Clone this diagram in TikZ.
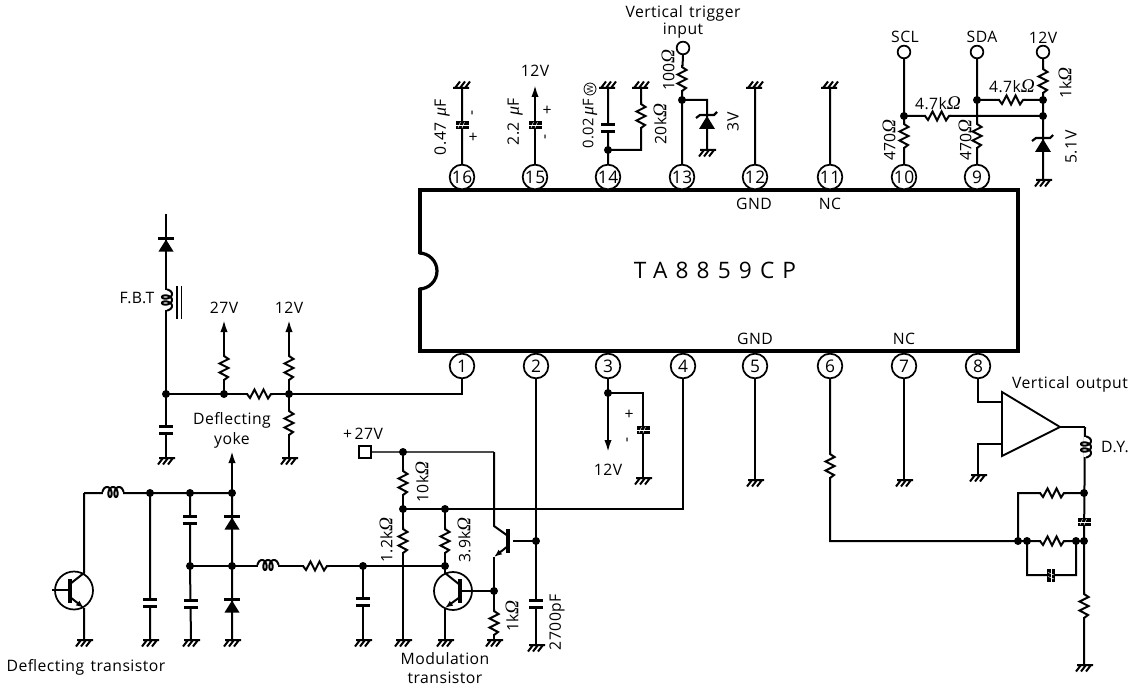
\documentclass[tikz,border=0pt]{standalone}
\usepackage{fontspec}
\setmainfont{Open Sans}[LetterSpace=3,WordSpace=1.4]
\newfontfamily\serifsy{Liberation Serif}
\usetikzlibrary{arrows.meta,calc}
\newcommand{\Om}{{\serifsy\itshape\fontsize{14.5}{14}\selectfont Ω}}
\newcommand{\Mu}{{\serifsy\itshape\fontsize{13.5}{14}\selectfont μ}}
\newcommand{\gndat}[3]{\coordinate (#1) at (#2,#3); \pic at (#1) {gnd};}
\newcommand{\gndup}[3]{\coordinate (#1) at (#2,#3); \pic[rotate=180] at (#1) {gnd};}
\tikzset{
  wire/.style={line width=1.5pt,line cap=butt,line join=miter},
  arrowwire/.style={wire,-{Latex[length=9pt,width=5.5pt]}},
  thin wire/.style={line width=1pt,black!70},
  dot/.style={circle,fill=black,inner sep=0pt,minimum size=6pt},
  pinnode/.style={circle,draw,line width=1.3pt,fill=white,inner sep=0pt,minimum size=18.5pt,font=\fontsize{13}{13}\selectfont},
  open/.style={circle,draw,line width=1.3pt,fill=white,inner sep=0pt,minimum size=9.5pt},
  lab/.style={inner sep=0pt,font=\fontsize{11.8}{13}\selectfont},
  vlab/.style={lab,rotate=90},
  res/.pic={\fill[white] (-12,-1.5) rectangle (12,1.5);
    \draw[wire] (-13,0)--(-10,4)--(-5.5,-4.5)--(-1,4.5)--(3.5,-4.5)--(8,4.5)--(11,0)--(13,0);},
  cap/.pic={\fill[white] (-3,-2) rectangle (3,2);
    \fill (-7,-5.2) rectangle (7,-2); \fill (-7,2) rectangle (7,5.2);},
  scap/.pic={\fill (-6.5,-4) rectangle (6.5,4);
    \draw[white,line width=.35pt] (-4,3)--(-1.5,-3) (0,3)--(2.5,-3);
    \draw[white,line width=.35pt] (-6.5,0)--(6.5,0);},
  diode/.pic={\fill (-7.5,6.5)--(7.5,6.5)--(0,-5.5)--cycle;
    \draw[line width=2pt] (-8,-6.5)--(8,-6.5);},
  zener/.pic={\fill (-8,7)--(8,7)--(0,-6)--cycle;
    \draw[line width=1.6pt] (-11,-4)--(-7,-7)--(7,-7)--(10,-10);},
  coil/.pic={\fill[white] (-10,-1.5) rectangle (10,1.5);
    \draw[line width=1.5pt] plot[domain=90:990,samples=90,smooth] ({(\x-540)/60-3*sin(\x)},{-1+5*cos(\x)});},
  gnd/.pic={\draw[line width=1.5pt] (-7,0)--(9,0) (-3,0)--(-8,6.5) (2,0)--(-3,6.5) (7,0)--(2,6.5);},
}
\begin{document}
\begin{tikzpicture}[x=0.75pt,y=-0.75pt]
\useasboundingbox (0,0) rectangle (1135,688);
% pins
\foreach \n/\x in {16/462,15/535,14/608,13/682,12/755,11/830,10/904,9/977}{\coordinate (c\n) at (\x,177);}
\foreach \n/\x in {1/462,2/536,3/608,4/683,5/755,6/830,7/904,8/978}{\coordinate (c\n) at (\x,366);}
% junction coordinates
\coordinate (n1) at (608,150); \coordinate (n2) at (641,150); \coordinate (n3) at (682,100);
\coordinate (n4) at (707,100); \coordinate (n5) at (904,116); \coordinate (n6) at (1043,116);
\coordinate (n7) at (977,100); \coordinate (n8) at (1043,100);
\coordinate (a1) at (535,85);
\coordinate (f0) at (166,214); \coordinate (f1) at (166,394); \coordinate (f2) at (224,394); \coordinate (f3) at (289,394);
\coordinate (f4) at (224,320); \coordinate (f5) at (289,320); \coordinate (f6) at (462,394);
\coordinate (m1) at (608,393); \coordinate (m2) at (643,393); \coordinate (m3) at (608,452);
\coordinate (k1) at (536,541);
\coordinate (t1) at (84,493); \coordinate (t2) at (150,493); \coordinate (t3) at (190,493); \coordinate (t4) at (232,493); \coordinate (t5) at (232,451);
\coordinate (t6) at (190,566); \coordinate (t7) at (232,566); \coordinate (t8) at (363,566); \coordinate (t9) at (445,566);
\coordinate (v1) at (403,452); \coordinate (v2) at (403,509); \coordinate (v3) at (445,509); \coordinate (v4) at (683,509); \coordinate (v5) at (494,452);
\coordinate (v6) at (494,526); \coordinate (v7) at (494,557); \coordinate (v8) at (494,591);
\coordinate (q1c) at (84,573); \coordinate (q1e) at (84,608); \coordinate (q1b) at (52,590);
\coordinate (q2c) at (445,573); \coordinate (q2e) at (445,608);
\coordinate (d1) at (1085,427); \coordinate (d2) at (1084,493); \coordinate (d3) at (1084,541); \coordinate (d4) at (1018,541); \coordinate (d5) at (1018,493);
\coordinate (d6) at (1027,541); \coordinate (d7) at (1076,541); \coordinate (d8) at (1027,575); \coordinate (d9) at (1076,575);
\coordinate (e1) at (830,541); \coordinate (e2) at (978,402); \coordinate (e3) at (978,444); \coordinate (e4) at (1002,402); \coordinate (e5) at (1002,444); \coordinate (e6) at (1060,427);
% grounds
\gndup{g16}{462}{88} \gndup{g14}{608}{88} \gndup{g14b}{641}{88} \gndup{g12}{755}{88} \gndup{g11}{830}{88}
\gndat{g13}{707}{150} \gndat{g9}{1043}{180}
\gndat{g1}{166}{458} \gndat{g2}{289}{458} \gndat{g3}{643}{478} \gndat{g5}{755}{480} \gndat{g7}{904}{480} \gndat{g8}{978}{475}
\gndat{g21}{84}{640} \gndat{g22}{150}{640} \gndat{g23}{191}{640} \gndat{g24}{232}{640}
\gndat{g25}{363}{640} \gndat{g26}{403}{640} \gndat{g27}{445}{640} \gndat{g28}{494}{640} \gndat{g29}{536}{645} \gndat{g30}{1084}{665}
% open terminals
\node[open] (ot) at (683,48) {}; \node[open] (scl) at (904,52) {}; \node[open] (sda) at (977,52) {}; \node[open] (v12) at (1043,52) {};
\node[draw,line width=1.3pt,fill=white,inner sep=0pt,minimum size=9pt] (sq) at (365,452) {};
% wires
\draw[wire] (c16)--(g16) (c14)--(g14) (n1)--(n2)--(g14b) (c13)--(n3) (n3)--(ot) (n3)--(n4)--(g13)
  (c12)--(g12) (c11)--(g11) (c10)--(n5)--(scl) (n5)--(n6) (c9)--(sda) (n7)--(n8) (v12)--(g9);
\draw[arrowwire] (c15)--(a1);
\draw[wire] (f0)--(g1) (f1)--(f3)--(f6)--(c1) (f3)--(g2) ;
\draw[arrowwire] (f2)--(f4);
\draw[arrowwire] (f3)--(f5);
\draw[wire] (c3)--(m1)--(m2)--(g3) (c5)--(g5) (c7)--(g7);
\draw[arrowwire] (m1)--(m3);
\draw[wire] (c2)--(g29) (c4)--(v4)--(v2)--(g26) (v3)--(t9)--(q2c) (q2e)--(g27);
\draw[wire] (k1)--(513,541);
\draw[thin wire] (sq)--(v1)--(v5);
\draw[wire] (v5)--(v6)--(508,536);
\draw[wire] (v1)--(v2) (v7)--(g28);
\draw[wire,-{Latex[length=6pt,width=4.5pt]}] (508,546)--(v7);
\draw[wire] (t1)--(q1c)--(70,584) (q1e)--(g21);
\draw[wire,-{Latex[length=6pt,width=4.5pt]}] (70,597)--(q1e);
\draw[wire] (t1)--(t4) (t2)--(g22) (t3)--(t6)--(g23) (t4)--(g24);
\draw[arrowwire] (t4)--(t5);
\draw[wire] (t6)--(t8)--(t9);
\draw[wire] (t8)--(g25);
\draw[wire] (q2c)--(460,585);
\draw[wire,-{Latex[length=6pt,width=4.5pt]}] (460,597)--(q2e);
% transistors
\node[circle,draw,line width=1.3pt,inner sep=0pt,minimum size=28.5pt] (q1) at (74,590.5) {};
\node[circle,draw,line width=1.3pt,inner sep=0pt,minimum size=28.5pt] (q2) at (453,591) {};
\draw[line width=2.4pt] (70,579)--(70,603) (460,579)--(460,603) (508,529)--(508,553);
\draw[wire] (q1b)--(70,590) (460,591)--(v8);
% lower-right
\draw[wire] (c6)--(e1)--(d4) (d4)--(d3) (d4)--(d5)--(d2) (d1)--(d3)--(g30) (d6)--(d8)--(d9)--(d7);
\draw[wire] (e6)--(d1) ;
\draw[wire] (c8)--(e2)--(e4) (e5)--(e3)--(g8);
\draw[line width=1.4pt,line join=miter] (1002,392)--(e6)--(1002,456)--cycle;
% chip
\node[draw,line width=3pt,fill=white,minimum width=448pt,minimum height=121pt,inner sep=0pt] (ic) at (719,270.5) {};
\draw[white,line width=4pt] (419,254)--(419,288);
\draw[line width=2.4pt] (419,253) arc[start angle=-90,end angle=90,radius=18];
\foreach \n in {16,15,14,13,12,11,10,9,1,2,3,4,5,6,7,8}{\node[pinnode] (p\n) at (c\n) {\n};}
% components
\foreach \p in {(641,115),(682,78),(904,135),(977,135),(1043,80),(224,367),(289,367),(289,422),(403,482),(403,540),(445,540),(494,622),(830,465),(1084,605)}{\pic[rotate=90] at \p {res};}
\foreach \p in {(938,116),(1012,100),(260,394),(316,566),(1053,493),(1053,541)}{\pic at \p {res};}
\foreach \p in {(608,128),(166,430),(150,603),(190,520),(191,604),(363,602),(536,604)}{\pic at \p {cap};}
\foreach \p in {(462,125),(535,125),(643,430),(1084,522)}{\pic at \p {scap};}
\pic[rotate=90] at (1051,575) {scap};
\foreach \p in {(166,245),(232,523),(232,606)}{\pic at \p {diode};}
\foreach \p in {(707,122),(1043,145)}{\pic at \p {zener};}
\foreach \p in {(113,493),(268,566)}{\pic at \p {coil};}
\foreach \p in {(166,300),(1085,447)}{\pic[rotate=-90] at \p {coil};}
\coordinate (b1) at (177,286); \coordinate (b2) at (177,319); \coordinate (b3) at (181.5,286); \coordinate (b4) at (181.5,319);
\draw[line width=1.1pt] (b1)--(b2) (b3)--(b4);
% dots
\foreach \c in {n1,n3,n5,n6,n7,n8,f1,f2,f3,m1,k1,t2,t3,t4,t6,t7,t8,t9,v1,v2,v3,v8,d2,d3,d4,d6,d7}{\node[dot] at (\c) {};}
% chip text
\node[inner sep=0pt,font=\fontsize{17}{18}\selectfont] (icname) at (715,270) {\addfontfeature{LetterSpace=36}TA8859CP};
\node[lab] (l1) at (754,204) {GND}; \node[lab] (l2) at (830,204) {NC}; \node[lab] (l3) at (755,339) {GND}; \node[lab] (l4) at (904,339) {NC};
% labels
\node[vlab] (l5) at (442,127) {0.47 \Mu F};
\node[vlab] (l6) at (515,122) {2.2 \Mu F};
\node[vlab] (l7) at (474,113) {-}; \node[lab] (l8) at (473,138) {+};
\node[lab] (l9) at (547,111) {+}; \node[vlab] (l10) at (547,137) {-};
\node[lab] (l11) at (535,71) {12V};
\node[vlab,font=\fontsize{11}{13}\selectfont] (l12) at (590,124) {0.02\,\Mu F};
\node[circle,draw,line width=.6pt,inner sep=0pt,minimum size=9pt,rotate=90,font=\fontsize{6.5}{7}\selectfont] (l12w) at (590,89) {W};
\node[vlab] (l13) at (660,124) {20k\Om};
\node[vlab] (l14) at (668,70) {100\Om};
\node[vlab] (l15) at (733,122) {3V};
\node[lab] (l16) at (683,13) {Vertical trigger};
\node[lab] (l17) at (683,31) {input};
\node[lab] (l18) at (905,37) {SCL}; \node[lab] (l19) at (982,37) {SDA}; \node[lab] (l20) at (1043,38) {12V};
\node[lab] (l21) at (938,103) {4.7k\Om}; \node[lab] (l22) at (1012,86) {4.7k\Om};
\node[vlab] (l23) at (889,140) {470\Om}; \node[vlab] (l24) at (965,140) {470\Om};
\node[vlab] (l25) at (1065,83) {1k\Om}; \node[vlab] (l26) at (1071,147) {5.1V};
\node[lab] (l27) at (137,298) {F.B.T};
\node[lab] (l28) at (224,308) {27V}; \node[lab] (l29) at (289,308) {12V};
\node[lab] (l30) at (232,420) {Deflecting}; \node[lab] (l31) at (232,440) {yoke};
\node[lab] (l32) at (363,434) {+\,27V};
\node[lab] (l33) at (608,470) {12V};
\node[lab] (l34) at (629,415) {+}; \node[vlab] (l35) at (629,440) {-};
\node[vlab] (l36) at (422,482) {10k\Om}; \node[vlab] (l37) at (386,540) {1.2k\Om};
\node[vlab] (l38) at (464,540) {3.9k\Om}; \node[vlab] (l39) at (512,616) {1k\Om};
\node[vlab] (l40) at (557,622) {2700pF};
\node[lab] (l41) at (445,659) {Modulation}; \node[lab] (l42) at (445,678) {transistor};
\node[lab] (l43) at (86,667) {Deflecting transistor};
\node[lab] (l44) at (1070,384) {Vertical output};
\node[lab] (l45) at (1115,447) {D.Y.};
\end{tikzpicture}
\end{document}
